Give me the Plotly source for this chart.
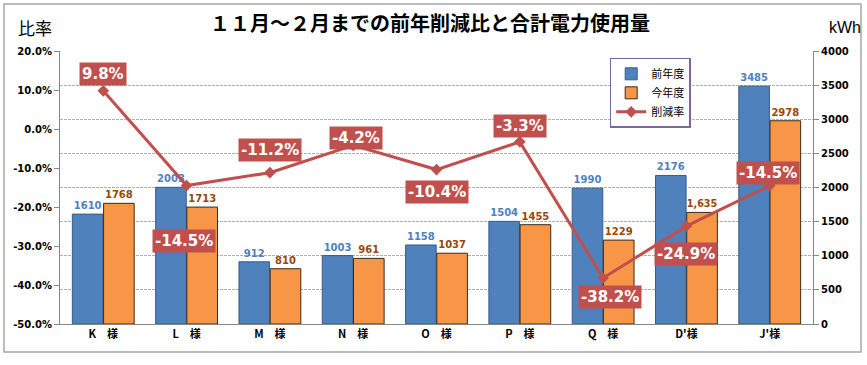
import plotly.graph_objects as go

categories = ["K\u3000様", "L\u3000様", "M\u3000様", "N\u3000様", "O\u3000様", "P\u3000様", "Q\u3000様", "D'様", "J'様"]
prev_year = [1610, 2003, 912, 1003, 1158, 1504, 1990, 2176, 3485]
this_year = [1768, 1713, 810, 961, 1037, 1455, 1229, 1635, 2978]
this_year_labels = ["1768", "1713", "810", "961", "1037", "1455", "1229", "1,635", "2978"]
reduction = [9.8, -14.5, -11.2, -4.2, -10.4, -3.3, -38.2, -24.9, -14.5]
left_ticks = [-50, -40, -30, -20, -10, 0, 10, 20]
right_ticks = [0, 500, 1000, 1500, 2000, 2500, 3000, 3500, 4000]

# label offsets (pixels) for the reduction-rate boxes
label_dy = [17, -55, 23, 7, -22, 16, -19, -28, 13]
label_dx = [0, -3, 0, 3, 0, 0, 7, 0, -2]

FONT = "Noto Sans CJK JP"
NUMFONT = "DejaVu Sans"

fig = go.Figure()
fig.add_trace(go.Bar(
    x=categories, y=prev_year, name="前年度", yaxis="y",
    marker=dict(color="#4F81BD", line=dict(color="#385D8A", width=1)),
    text=[str(v) for v in prev_year], textposition="outside",
    textfont=dict(color="#4F81BD", size=10, family=NUMFONT, weight="bold"),
    cliponaxis=False,
))
fig.add_trace(go.Bar(
    x=categories, y=this_year, name="今年度", yaxis="y",
    marker=dict(color="#F79646", line=dict(color="#3a2a1a", width=1)),
    text=this_year_labels, textposition="outside",
    textfont=dict(color="#984807", size=10, family=NUMFONT, weight="bold"),
    cliponaxis=False,
))
fig.add_trace(go.Scatter(
    x=categories, y=reduction, name="削減率", yaxis="y2",
    mode="lines+markers",
    line=dict(color="#C0504D", width=3),
    marker=dict(symbol="diamond", size=9, color="#C0504D"),
    cliponaxis=False,
))

for c, v, dy, dx in zip(categories, reduction, label_dy, label_dx):
    fig.add_annotation(
        x=c, y=v, xref="x", yref="y2", text="%.1f%%" % v,
        showarrow=False, yshift=dy, xshift=dx,
        font=dict(color="white", size=15, family=NUMFONT, weight="bold"),
        bgcolor="#C0504D", borderpad=2,
    )

fig.add_annotation(x=0.5, y=1, xref="paper", yref="paper", yshift=29, xshift=-7,
                   text="１１月～２月までの前年削減比と合計電力使用量", showarrow=False,
                   font=dict(size=20, family=FONT, color="black", weight="bold"), yanchor="middle")
fig.add_annotation(x=-0.033, y=1, xref="paper", yref="paper", yshift=24, xanchor="center",
                   text="比率", showarrow=False,
                   font=dict(size=17, family=FONT, color="black"), yanchor="middle")
fig.add_annotation(x=1.043, y=1, xref="paper", yref="paper", yshift=24, xanchor="center",
                   text="kWh", showarrow=False,
                   font=dict(size=16, family="Liberation Sans", color="black"), yanchor="middle")

# outer frame
fig.add_shape(type="rect", xref="paper", yref="paper",
              x0=(4 - 60) / 753, x1=(861 - 60) / 753,
              y0=(324 - 352) / 273, y1=(324 - 4) / 273,
              line=dict(color="#A6A6A6", width=1.5), layer="below")

tickfont = dict(size=10, family=NUMFONT, color="black", weight="bold")
fig.update_layout(
    width=867, height=365,
    margin=dict(l=60, r=54, t=51, b=41),
    paper_bgcolor="white", plot_bgcolor="white",
    barmode="group", bargap=0.25, bargroupgap=0.02,
    showlegend=True,
    legend=dict(x=0.73, y=0.975, xanchor="left", yanchor="top",
                bordercolor="#8064A2", borderwidth=1.5, bgcolor="white",
                font=dict(size=11, family=FONT, color="black"),
                traceorder="normal", itemwidth=30, tracegroupgap=0),
    xaxis=dict(showline=True, linecolor="#868686", linewidth=1, ticks="",
               tickfont=dict(size=11, family=FONT, color="black", weight="bold"),
               showgrid=False),
    yaxis=dict(range=[0, 4000], tickvals=right_ticks, side="right",
               showgrid=True, gridcolor="#B0B0B0", griddash="3px,1px", gridwidth=1,
               zeroline=False,
               showline=True, linecolor="#868686", ticks="outside", ticklen=5,
               tickcolor="#868686", tickfont=tickfont),
    yaxis2=dict(range=[-50, 20], tickvals=left_ticks, overlaying="y", side="left",
                ticktext=["%.1f%%" % t for t in left_ticks],
                showgrid=False, zeroline=False,
                showline=True, linecolor="#868686", ticks="outside", ticklen=5,
                tickcolor="#868686", tickfont=tickfont),
    font=dict(family=FONT),
)

fig.write_html("out.html", config={"displayModeBar": False},
               post_script="document.body.style.margin='0';document.body.style.padding='0';")
